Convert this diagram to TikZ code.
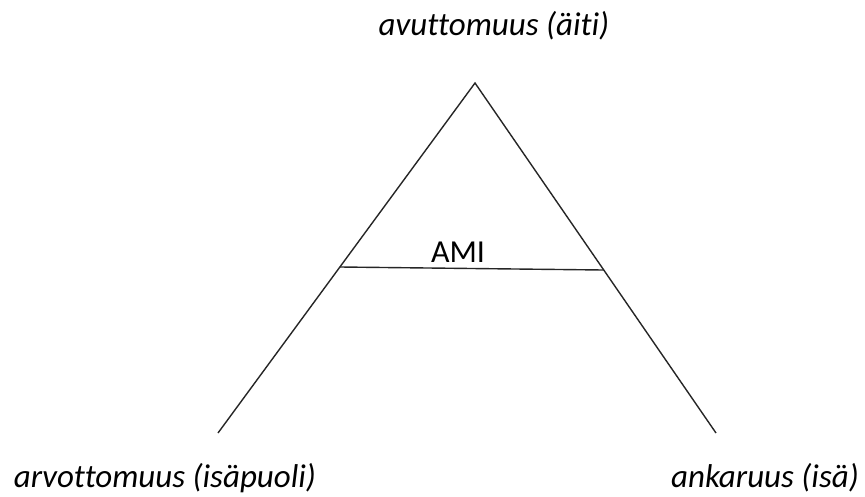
\documentclass[tikz,border=0pt]{standalone}
\usepackage{fontspec}
\setmainfont{Carlito}[Ligatures=NoCommon]
\usetikzlibrary{calc}
\begin{document}
\begin{tikzpicture}[x=1pt,y=-1pt,
  lbl/.style={font=\fontsize{33}{38}\selectfont\itshape, anchor=base, inner sep=0pt},
  edge/.style={line width=1.4pt, draw=black!85}]
\useasboundingbox (0,0) rectangle (865,496);
\coordinate (apex) at (475,83);
\coordinate (bl) at (218,433);
\coordinate (br) at (716,433);
\coordinate (ml) at ($(apex)!0.5257!(bl)$);
\coordinate (mr) at ($(apex)!0.5343!(br)$);
\draw[edge] (bl) -- (apex) -- (br);
\draw[edge] (ml) -- (mr);
\node[lbl] (top) at (494,35) {avuttomuus (äiti)};
\node[lbl] (left) at (165,487) {arvottomuus (isäpuoli)};
\node[lbl] (right) at (765,487) {ankaruus (isä)};
\node[font=\fontsize{32}{37}\selectfont, anchor=base, inner sep=0pt] (ami) at (458,262) {AMI};
\end{tikzpicture}
\end{document}
